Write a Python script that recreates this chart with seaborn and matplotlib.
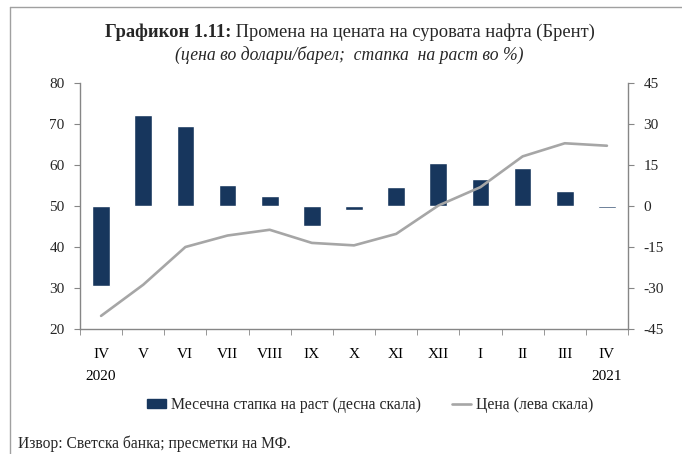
import matplotlib
matplotlib.use('Agg')
import matplotlib.pyplot as plt
from matplotlib.lines import Line2D
from matplotlib.patches import Patch
import seaborn as sns
import numpy as np


# data
months = ['IV\n2020', 'V', 'VI', 'VII', 'VIII', 'IX', 'X', 'XI', 'XII', 'I', 'II', 'III', 'IV\n2021']
growth = [-29.3, 33.2, 29.2, 7.6, 3.5, -7.3, -1.5, 6.8, 15.6, 9.8, 13.8, 5.4, -0.8]   # desna skala, %
price = [23.2, 30.8, 40.0, 42.8, 44.2, 41.0, 40.4, 43.2, 50.1, 54.6, 62.1, 65.3, 64.7]  # leva skala, $/barel

bar_color = '#17365D'
line_color = '#A6A6A6'
axis_color = '#868686'

sns.set_style('white')
plt.rcParams['font.family'] = ['Liberation Serif', 'DejaVu Serif']

fig = plt.figure(figsize=(6.82, 4.54), dpi=100)
ax = fig.add_axes([80 / 682, 1 - 329 / 454, 548 / 682, 246 / 454])

pos = list(range(len(months)))

# bars -> right axis
sns.barplot(x=pos, y=growth, color=bar_color, saturation=1, width=0.42, ax=ax)

# line -> left axis
ax2 = ax.twinx()
sns.lineplot(x=pos, y=price, color=line_color, linewidth=1.9, ax=ax2)
ax2.set_ylim(20, 80)
ax2.set_yticks(np.arange(20, 81, 10))
ax2.yaxis.tick_left()
ax2.yaxis.set_label_position('left')

# twinx resets ticks of the first axes, so set right side after it
ax.set_ylim(-45, 45)
ax.set_yticks(np.arange(-45, 46, 15))
ax.set_yticklabels([str(v) for v in range(-45, 46, 15)])
ax.yaxis.tick_right()

ax.set_xlim(-0.5, len(months) - 0.5)
ax.set_xticks(pos)
ax.set_xticklabels(months, fontsize=11, linespacing=1.85, va='top')
ax.set_xticks(np.arange(-0.5, len(months), 1), minor=True)
ax.tick_params(axis='x', which='major', length=0, pad=14, colors='black')
ax.tick_params(axis='x', which='minor', length=4, color=axis_color, direction='out', bottom=True)
ax.tick_params(axis='y', length=4, color=axis_color, direction='out', labelsize=11, pad=7)
ax2.tick_params(axis='y', length=4, color=axis_color, direction='out', labelsize=11, pad=7)

for a in (ax, ax2):
    a.set_xlabel('')
    a.set_ylabel('')
    a.spines['top'].set_visible(False)
    for s in ('left', 'right', 'bottom'):
        a.spines[s].set_color(axis_color)
        a.spines[s].set_linewidth(1)
ax.spines['left'].set_visible(False)
ax2.spines['right'].set_visible(False)
ax2.spines['bottom'].set_visible(False)
ax.grid(False)
ax2.grid(False)

# title: bold part + regular part, centred together
t1 = fig.text(0, 1 - 32 / 454, 'Графикон 1.11:', fontsize=13.3, fontweight='bold', va='center', ha='left')
t2 = fig.text(0, 1 - 32 / 454, ' Промена на цената на суровата нафта (Брент)', fontsize=13.3, va='center', ha='left')
fig.canvas.draw()
r = fig.canvas.get_renderer()
w1 = t1.get_window_extent(r).width
w2 = t2.get_window_extent(r).width
x0 = 350 - (w1 + w2) / 2
t1.set_x(x0 / 682)
t2.set_x((x0 + w1) / 682)
fig.text(349 / 682, 1 - 55 / 454, '(цена во долари/барел;  стапка  на раст во %)',
         fontsize=12.7, style='italic', ha='center', va='center')

handles = [Patch(facecolor=bar_color, edgecolor=bar_color),
           Line2D([0], [0], color=line_color, linewidth=1.9)]
fig.legend(handles, ['Месечна стапка на раст (десна скала)', 'Цена (лева скала)'],
           loc='center', bbox_to_anchor=(370 / 682, 1 - 405 / 454), ncol=2, frameon=False,
           fontsize=11.3, handlelength=1.2, handleheight=0.55, handletextpad=0.3, columnspacing=2.0)

fig.text(18 / 682, 1 - 444 / 454, 'Извор: Светска банка; пресметки на МФ.', fontsize=11.2, ha='left', va='center')

# outer frame (top and left edge)
fig.add_artist(Line2D([10 / 682, 1], [1 - 7 / 454, 1 - 7 / 454], color='#A0A0A0', linewidth=1))
fig.add_artist(Line2D([10 / 682, 10 / 682], [0, 1 - 7 / 454], color='#A0A0A0', linewidth=1))

fig.savefig('out.png', dpi=100)
